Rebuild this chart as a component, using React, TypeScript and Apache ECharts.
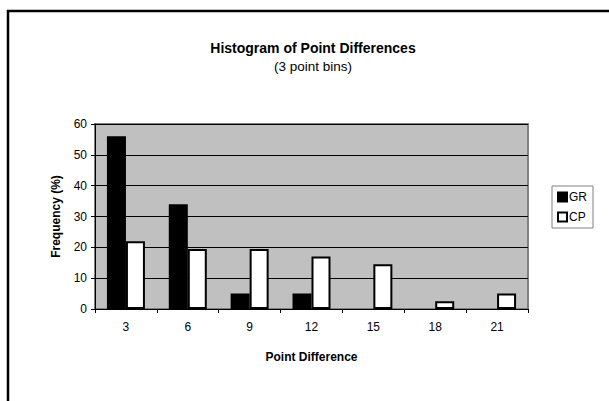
import React, { useEffect, useRef } from "react";
import * as echarts from "echarts";

const categories = ["3", "6", "9", "12", "15", "18", "21"];
const grValues = [56, 34, 5, 5, 0, 0, 0];
const cpValues = [22, 19.5, 19.5, 17, 14.5, 2.5, 5];
const yTicks = { min: 0, max: 60, interval: 10 };

const FONT = "Arial, 'Liberation Sans', sans-serif";

const toData = (vals: number[]) =>
  vals.map((v) => (v === 0 ? { value: v, itemStyle: { borderWidth: 0, opacity: 0 } } : v));

export default function App() {
  const ref = useRef<HTMLDivElement>(null);
  useEffect(() => {
    if (!ref.current) return;
    const chart = echarts.init(ref.current, undefined, { renderer: "svg" });
    chart.setOption({
      animation: false,
      backgroundColor: "#ffffff",
      textStyle: { fontFamily: FONT },
      title: {
        text: "Histogram of Point Differences",
        subtext: "(3 point bins)",
        left: 308,
        top: 36,
        textAlign: "center",
        itemGap: 4,
        textStyle: { fontFamily: FONT, fontSize: 14, fontWeight: "bold", color: "#000" },
        subtextStyle: { fontFamily: FONT, fontSize: 13.5, color: "#000" },
      },
      graphic: [
        { type: "line", shape: { x1: 7, y1: 11, x2: 609, y2: 11 }, style: { stroke: "#000", lineWidth: 2.5 } },
        { type: "line", shape: { x1: 8, y1: 10, x2: 8, y2: 401 }, style: { stroke: "#000", lineWidth: 2.5 } },
      ],
      legend: {
        orient: "vertical",
        left: 552,
        top: 186,
        itemWidth: 9,
        itemHeight: 9,
        itemGap: 8,
        padding: [5, 6, 5, 5],
        borderColor: "#808080",
        borderWidth: 1,
        icon: "rect",
        textStyle: { fontFamily: FONT, fontSize: 12, color: "#000", padding: [0, 0, 0, -3] },
        data: ["GR", "CP"],
      },
      grid: {
        left: 95,
        top: 124,
        width: 433,
        height: 185,
        show: true,
        backgroundColor: "#C0C0C0",
        borderColor: "#808080",
        borderWidth: 2,
      },
      xAxis: {
        type: "category",
        data: categories,
        name: "Point Difference",
        nameLocation: "middle",
        nameGap: 42,
        nameTextStyle: { fontFamily: FONT, fontSize: 12, fontWeight: "bold", color: "#000" },
        axisLine: { show: true, lineStyle: { color: "#000", width: 1 } },
        axisTick: { show: true, alignWithLabel: false, length: 4, lineStyle: { color: "#000" } },
        axisLabel: { fontFamily: FONT, fontSize: 12, color: "#000", margin: 12 },
      },
      yAxis: {
        type: "value",
        min: yTicks.min,
        max: yTicks.max,
        interval: yTicks.interval,
        name: "Frequency (%)",
        nameLocation: "middle",
        nameGap: 33,
        nameTextStyle: { fontFamily: FONT, fontSize: 12, fontWeight: "bold", color: "#000" },
        axisLine: { show: true, lineStyle: { color: "#000", width: 1 } },
        axisTick: { show: true, length: 4, lineStyle: { color: "#000" } },
        axisLabel: { fontFamily: FONT, fontSize: 12, color: "#000", margin: 8 },
        splitLine: { show: true, lineStyle: { color: "#000", width: 1 } },
      },
      series: [
        {
          name: "GR",
          type: "bar",
          data: toData(grValues),
          barWidth: 19,
          barGap: "0%",
          itemStyle: { color: "#000", borderColor: "#000", borderWidth: 1.5 },
        },
        {
          name: "CP",
          type: "bar",
          data: toData(cpValues),
          barWidth: 19,
          barGap: "0%",
          itemStyle: { color: "#fff", borderColor: "#000", borderWidth: 2 },
        },
      ],
    });
    return () => chart.dispose();
  }, []);
  return (
    <div
      ref={ref}
      style={{ position: "fixed", left: 0, top: 0, width: 609, height: 401 }}
    />
  );
}
